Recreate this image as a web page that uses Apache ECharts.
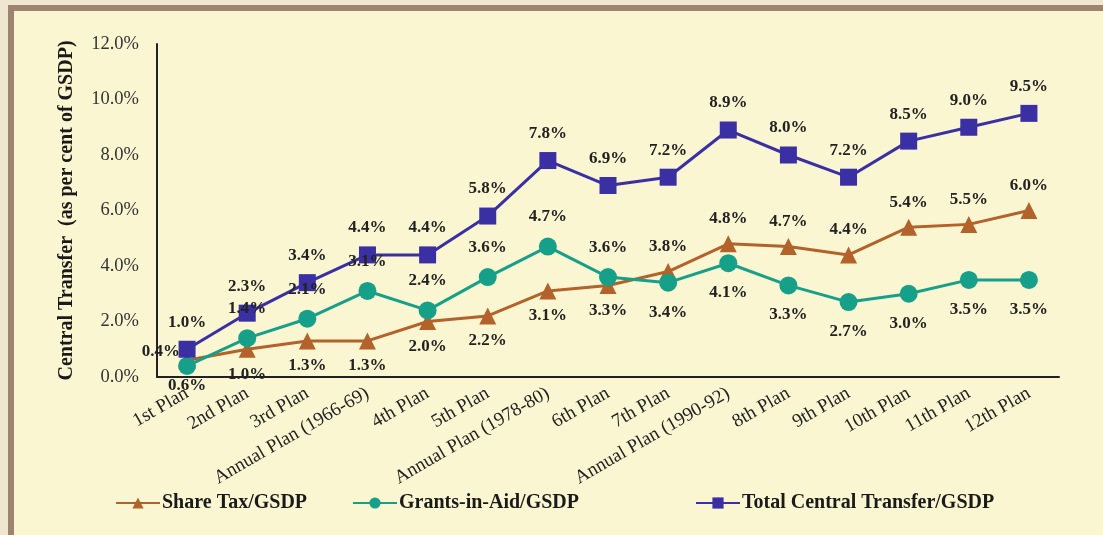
<!DOCTYPE html>
<html>
<head>
<meta charset="utf-8">
<script src="https://cdn.jsdelivr.net/npm/echarts@6/dist/echarts.min.js"></script>
<style>
  html, body { margin: 0; padding: 0; background: #efe6d0; }
  #frame {
    position: absolute; left: 8px; top: 5px; width: 1120px; height: 560px;
    border: 6px solid #9c846e; background: #fbf6d2;
  }
  #chart { position: absolute; left: 0; top: 0; width: 1103px; height: 535px; }
</style>
</head>
<body>
<div id="frame"></div>
<div id="chart"></div>
<script>
// categories (five year plans)
const plans = [
  "1st Plan", "2nd Plan", "3rd Plan", "Annual Plan (1966-69)", "4th Plan",
  "5th Plan", "Annual Plan (1978-80)", "6th Plan", "7th Plan",
  "Annual Plan (1990-92)", "8th Plan", "9th Plan", "10th Plan", "11th Plan", "12th Plan"
];
// values, per cent of GSDP
const shareTax = [0.6, 1.0, 1.3, 1.3, 2.0, 2.2, 3.1, 3.3, 3.8, 4.8, 4.7, 4.4, 5.4, 5.5, 6.0];
const grantsInAid = [0.4, 1.4, 2.1, 3.1, 2.4, 3.6, 4.7, 3.6, 3.4, 4.1, 3.3, 2.7, 3.0, 3.5, 3.5];
const totalTransfer = [1.0, 2.3, 3.4, 4.4, 4.4, 5.8, 7.8, 6.9, 7.2, 8.9, 8.0, 7.2, 8.5, 9.0, 9.5];
const yTicks = [0, 2, 4, 6, 8, 10, 12];

// where each data label sits (style only)
const sharePos = ["bottom", "bottom", "bottom", "bottom", "bottom", "bottom", "bottom", "bottom",
  "top", "top", "top", "top", "top", "top", "top"];
const grantsPos = ["left", "top", "top", "top", "top", "top", "top", "top",
  "bottom", "bottom", "bottom", "bottom", "bottom", "bottom", "bottom"];

const serif = "'Liberation Serif', 'Times New Roman', serif";
const labelFont = { fontFamily: serif, fontWeight: "bold", fontSize: 17, color: "#222" };

function withLabels(values, positions, dist) {
  return values.map((v, i) => {
    const lab = { position: positions[i], distance: dist };
    if (positions[i] === "left") { lab.offset = [4, -14]; lab.distance = 2; }
    return { value: v, label: lab };
  });
}

const chart = echarts.init(document.getElementById("chart"));
chart.setOption({
  backgroundColor: "transparent",
  animation: false,
  grid: { left: 157, right: 44, top: 44, bottom: 158 },
  legend: [
    { data: ["Share Tax/GSDP"], left: 110 },
    { data: ["Grants-in-Aid/GSDP"], left: 347 },
    { data: ["Total Central Transfer/GSDP"], left: 690 }
  ].map(l => Object.assign(l, {
    top: 488, itemWidth: 44, itemHeight: 14, itemGap: 4,
    textStyle: { fontFamily: serif, fontWeight: "bold", fontSize: 20, color: "#1a1a1a", padding: [0, 0, 0, -3] }
  })),
  xAxis: {
    type: "category",
    data: plans,
    boundaryGap: true,
    axisLine: { lineStyle: { color: "#222", width: 2 } },
    axisTick: { show: false },
    axisLabel: {
      rotate: 30, margin: 15, interval: 0,
      fontFamily: serif, fontSize: 19, color: "#222"
    }
  },
  yAxis: {
    type: "value",
    min: yTicks[0], max: yTicks[yTicks.length - 1], interval: 2,
    name: "Central Transfer  (as per cent of GSDP)",
    nameLocation: "middle", nameGap: 80, nameRotate: 90,
    nameTextStyle: { fontFamily: serif, fontWeight: "bold", fontSize: 20, color: "#1a1a1a" },
    axisLine: { show: true, lineStyle: { color: "#222", width: 2 } },
    axisTick: { show: false },
    splitLine: { show: false },
    axisLabel: {
      margin: 18, fontFamily: serif, fontSize: 18.5, color: "#333",
      formatter: v => v.toFixed(1) + "%"
    }
  },
  series: [
    {
      name: "Share Tax/GSDP", type: "line",
      data: withLabels(shareTax, sharePos, 8),
      symbol: "triangle", symbolSize: 17,
      lineStyle: { color: "#b2622a", width: 3 },
      itemStyle: { color: "#b2622a" },
      label: Object.assign({ show: true, formatter: p => p.value.toFixed(1) + "%" }, labelFont)
    },
    {
      name: "Grants-in-Aid/GSDP", type: "line",
      data: withLabels(grantsInAid, grantsPos, 12),
      symbol: "circle", symbolSize: 18,
      lineStyle: { color: "#16a08a", width: 3 },
      itemStyle: { color: "#16a08a" },
      label: Object.assign({ show: true, formatter: p => p.value.toFixed(1) + "%" }, labelFont)
    },
    {
      name: "Total Central Transfer/GSDP", type: "line",
      data: totalTransfer,
      symbol: "rect", symbolSize: 17,
      lineStyle: { color: "#3a2fa3", width: 3 },
      itemStyle: { color: "#3a2fa3" },
      label: Object.assign({ show: true, position: "top", distance: 10,
        formatter: p => p.value.toFixed(1) + "%" }, labelFont)
    }
  ]
});
</script>
</body>
</html>
